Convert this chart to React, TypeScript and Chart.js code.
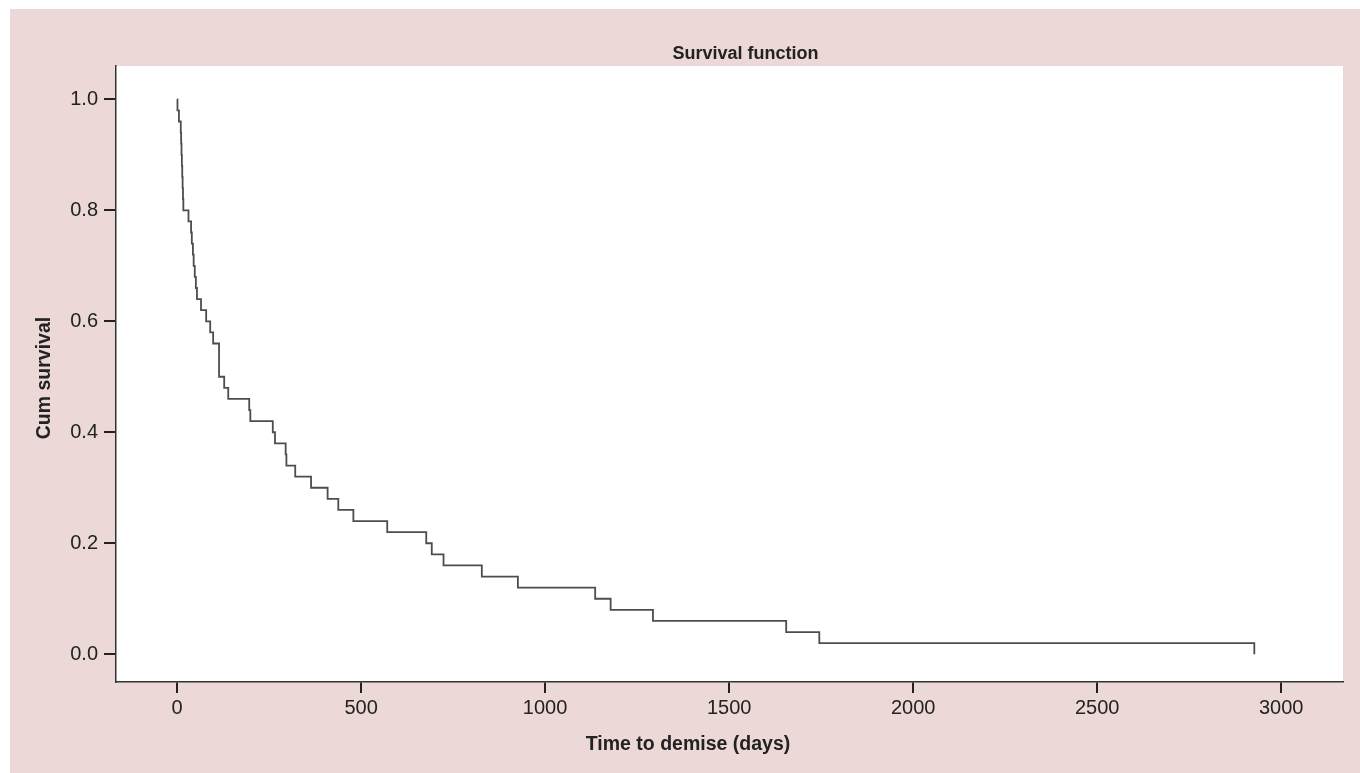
import React, { useEffect, useRef } from "react";
import { Chart, registerables } from "chart.js";

Chart.register(...registerables);

// Kaplan-Meier event times (days) and cumulative survival after each event
const eventDays = [
  0, 1, 5, 10, 11, 12, 13, 14, 15, 16, 17,
  31, 38, 40, 43, 45, 48, 51, 54,
  65, 79, 90, 98,
  114, 114, 114, 128, 139, 196, 199,
  260, 266, 295, 297, 321, 364, 409, 438, 479, 571,
  677, 692, 724, 828, 926, 1136, 1178, 1293, 1655, 1745, 2927,
];
const cumSurvival = [
  1.0, 0.98, 0.96, 0.94, 0.92, 0.9, 0.88, 0.86, 0.84, 0.82, 0.8,
  0.78, 0.76, 0.74, 0.72, 0.7, 0.68, 0.66, 0.64,
  0.62, 0.6, 0.58, 0.56,
  0.54, 0.52, 0.5, 0.48, 0.46, 0.44, 0.42,
  0.4, 0.38, 0.36, 0.34, 0.32, 0.3, 0.28, 0.26, 0.24, 0.22,
  0.2, 0.18, 0.16, 0.14, 0.12, 0.1, 0.08, 0.06, 0.04, 0.02, 0.0,
];
const xTicks = [0, 500, 1000, 1500, 2000, 2500, 3000];
const yTicks = [0.0, 0.2, 0.4, 0.6, 0.8, 1.0];

const chartTitle = "Survival function";
const xTitle = "Time to demise (days)";
const yTitle = "Cum survival";

const FONT = "'Liberation Sans', Arial, Helvetica, sans-serif";
const W = 1350;
const H = 764;

const whiteArea = {
  id: "whiteArea",
  beforeDraw(chart: any) {
    const { ctx, chartArea } = chart;
    ctx.save();
    ctx.fillStyle = "#ffffff";
    ctx.fillRect(chartArea.left, chartArea.top, chartArea.right - chartArea.left, chartArea.bottom - chartArea.top);
    ctx.restore();
  },
};

// Titles placed as in the original
const titleTexts = {
  id: "titleTexts",
  afterDraw(chart: any) {
    const { ctx, chartArea, width } = chart;
    ctx.save();
    ctx.fillStyle = "#222";
    ctx.textAlign = "center";
    ctx.textBaseline = "middle";
    ctx.font = `bold 18px ${FONT}`;
    ctx.fillText(chartTitle, (chartArea.left + chartArea.right) / 2 + 16, chartArea.top - 12);
    ctx.font = `bold 19.5px ${FONT}`;
    ctx.fillText(xTitle, width / 2 + 3, chartArea.bottom + 63);
    ctx.translate(35, (chartArea.top + chartArea.bottom) / 2 + 4);
    ctx.rotate(-Math.PI / 2);
    ctx.fillText(yTitle, 0, 0);
    ctx.restore();
  },
};

export default function App() {
  const ref = useRef<HTMLCanvasElement | null>(null);

  useEffect(() => {
    if (!ref.current) return;
    const data = eventDays.map((d, i) => ({ x: d, y: cumSurvival[i] }));
    const chart = new Chart(ref.current, {
      type: "line",
      data: {
        datasets: [
          {
            data,
            stepped: "before",
            borderColor: "#4d4d4d",
            borderWidth: 1.8,
            pointRadius: 0,
            fill: false,
          },
        ],
      },
      options: {
        animation: false,
        responsive: false,
        events: [],
        layout: { padding: { top: 57, right: 17, bottom: 0, left: 0 } },
        plugins: {
          legend: { display: false },
          tooltip: { enabled: false },
          title: { display: false },
        },
        scales: {
          x: {
            type: "linear",
            min: -166,
            max: 3168,
            afterBuildTicks: (s: any) => {
              s.ticks = xTicks.map((v) => ({ value: v }));
            },
            afterFit: (s: any) => {
              s.height = 91;
            },
            ticks: {
              color: "#222",
              font: { family: FONT, size: 20 },
              padding: 3,
              maxRotation: 0,
              callback: (v: any) => String(v),
            },
            grid: {
              drawOnChartArea: false,
              drawTicks: true,
              tickLength: 11,
              color: "#222",
              lineWidth: 2,
            },
            border: { display: true, color: "#333", width: 1.5 },
            title: { display: false, text: xTitle },
          },
          y: {
            type: "linear",
            min: -0.05,
            max: 1.06,
            afterBuildTicks: (s: any) => {
              s.ticks = yTicks.map((v) => ({ value: v }));
            },
            afterFit: (s: any) => {
              s.width = 106;
            },
            ticks: {
              color: "#222",
              font: { family: FONT, size: 20 },
              padding: 6,
              callback: (v: any) => Number(v).toFixed(1),
            },
            grid: {
              drawOnChartArea: false,
              drawTicks: true,
              tickLength: 12,
              color: "#222",
              lineWidth: 2,
            },
            border: { display: true, color: "#333", width: 1.5 },
            title: { display: false, text: yTitle },
          },
        },
      },
      plugins: [whiteArea, titleTexts],
    } as any);
    return () => chart.destroy();
  }, []);

  return (
    <div
      style={{
        position: "absolute",
        left: 10,
        top: 9,
        width: W,
        height: H,
        background: "#ebd8d7",
      }}
    >
      <canvas ref={ref} width={W} height={H} style={{ display: "block", width: W, height: H }} />
    </div>
  );
}
